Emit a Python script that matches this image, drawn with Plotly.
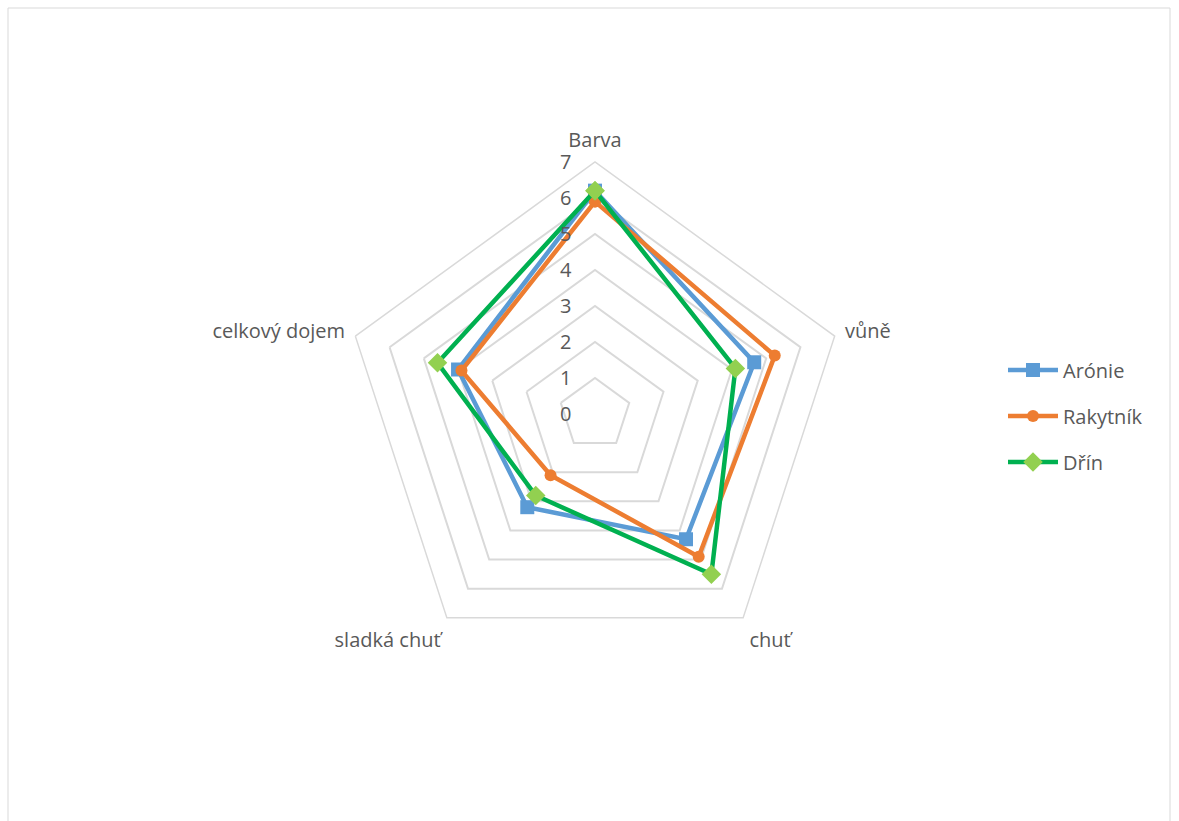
import plotly.graph_objects as go

categories = ["Barva", "vůně", "chuť", "sladká chuť", "celkový dojem"]
aronie = [6.2, 4.65, 4.3, 3.2, 4.0]
rakytnik = [5.9, 5.25, 4.9, 2.1, 3.9]
drin = [6.2, 4.1, 5.5, 2.8, 4.6]
radial_ticks = [0, 1, 2, 3, 4, 5, 6, 7]

W, H = 1179, 821
cx, cy, R = 595, 414, 252

font_family = "'Open Sans', Lato, sans-serif"
text_col = "#595959"
grid_col = "#d9d9d9"
fs = 20

def closed(v):
    return v + v[:1]

fig = go.Figure()
series = [
    ("Arónie", aronie, "#5b9bd5", "#5b9bd5", "square", 14, "legend"),
    ("Rakytník", rakytnik, "#ed7d31", "#ed7d31", "circle", 12, "legend2"),
    ("Dřín", drin, "#00b050", "#92d050", "diamond", 15, "legend3"),
]
for name, vals, lc, mc, sym, ms, lg in series:
    fig.add_trace(go.Scatterpolar(
        r=closed(vals), theta=closed(categories), name=name, mode="lines+markers",
        line=dict(color=lc, width=4.5),
        marker=dict(color=mc, symbol=sym, size=ms, line=dict(width=0)),
        legend=lg, showlegend=True,
    ))

leg_common = dict(xanchor="left", yanchor="middle", bgcolor="rgba(0,0,0,0)", itemwidth=50,
                  font=dict(size=fs, color=text_col))
fig.update_layout(
    width=W, height=H,
    showlegend=True,
    margin=dict(l=0, r=0, t=0, b=0),
    paper_bgcolor="white",
    font=dict(family=font_family, size=fs, color=text_col),
    polar=dict(
        domain=dict(x=[(cx - R) / W, (cx + R) / W], y=[(H - cy - R) / H, (H - cy + R) / H]),
        gridshape="linear",
        bgcolor="white",
        angularaxis=dict(rotation=90, direction="clockwise", showgrid=False, showline=True,
                         linecolor=grid_col, linewidth=1.5,
                         ticks="outside", ticklen=6, tickcolor="rgba(0,0,0,0)",
                         tickfont=dict(size=fs, color=text_col)),
        radialaxis=dict(range=[0, 7], tickvals=radial_ticks, angle=90, tickangle=90, showline=False,
                        gridcolor=grid_col, gridwidth=1.5, side="counterclockwise",
                        ticks="outside", ticklen=16, tickcolor="rgba(0,0,0,0)",
                        tickfont=dict(size=fs, color=text_col)),
    ),
    legend=dict(x=1003 / W, y=1 - 370 / H, **leg_common),
    legend2=dict(x=1003 / W, y=1 - 416 / H, **leg_common),
    legend3=dict(x=1003 / W, y=1 - 462 / H, **leg_common),
    shapes=[dict(type="rect", xref="paper", yref="paper", x0=8 / W, x1=1170 / W, y0=-0.05, y1=1 - 8 / H,
                 line=dict(color=grid_col, width=1), fillcolor="rgba(0,0,0,0)")],
)

fig.write_html("out.html")
